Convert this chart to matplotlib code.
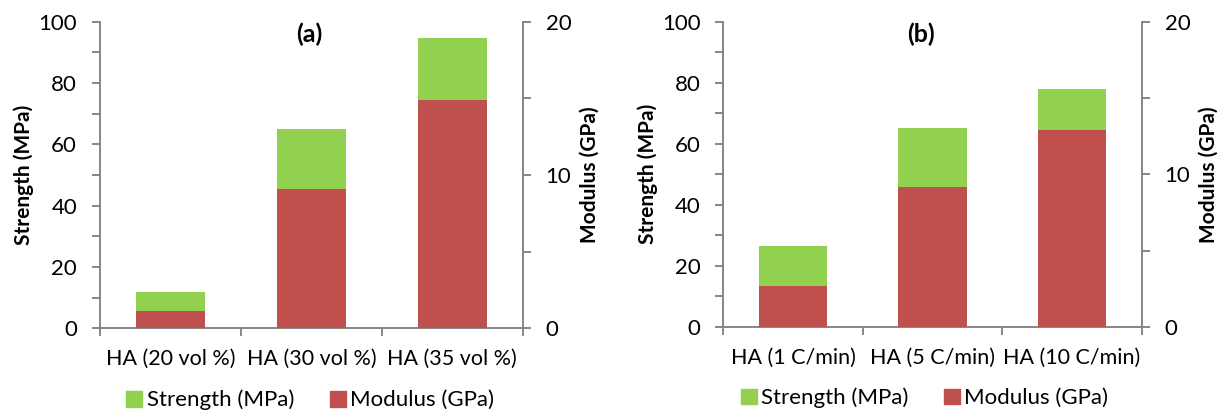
import matplotlib
matplotlib.use("Agg")
import matplotlib.pyplot as plt
from matplotlib.ticker import MultipleLocator, FixedLocator, NullFormatter
from matplotlib.patches import Patch

plt.rcParams['font.family'] = ['Lato', 'DejaVu Sans']

# -- data
cats_a = ["HA (20 vol %)", "HA (30 vol %)", "HA (35 vol %)"]
strength_a = [11.8, 65.1, 94.8]      # MPa
modulus_a = [1.12, 9.12, 14.88]      # GPa

cats_b = ["HA (1 C/min)", "HA (5 C/min)", "HA (10 C/min)"]
strength_b = [26.5, 65.2, 78.0]      # MPa
modulus_b = [2.67, 9.18, 12.92]      # GPa

GREEN = "#92D050"
RED = "#C0504D"
GRAY = "#868686"


def panel(rect, cats, strength, modulus, title, title_x, leg_x):
    # draws one panel: strength bars on the left axis, modulus on the right
    # @param rect - axes position in figure fractions
    # @param title_x, leg_x - title / legend centre in axes coordinates
    ax = fig.add_axes(rect)
    ax2 = ax.twinx()
    x = range(len(cats))
    ax.bar(x, strength, width=0.49, color=GREEN, zorder=2)
    ax2.bar(x, modulus, width=0.49, color=RED, zorder=2)

    ax.set_xlim(-0.5, len(cats) - 0.5)
    ax.set_ylim(0, 100)
    ax2.set_ylim(0, 20)

    ax.yaxis.set_major_locator(MultipleLocator(20))
    ax.yaxis.set_minor_locator(MultipleLocator(10))
    ax2.yaxis.set_major_locator(MultipleLocator(10))
    ax2.yaxis.set_minor_locator(MultipleLocator(5))

    ax.set_xticks(list(x))
    ax.set_xticklabels(cats, fontsize=15.5)
    ax.xaxis.set_minor_locator(FixedLocator([i - 0.5 for i in range(len(cats) + 1)]))
    ax.xaxis.set_minor_formatter(NullFormatter())
    ax.tick_params(axis='x', which='major', length=0, pad=15)
    ax.tick_params(axis='x', which='minor', length=5.5, width=1.4, color=GRAY)

    for a in (ax, ax2):
        a.tick_params(axis='y', which='both', length=5.5, width=1.4,
                      color=GRAY, labelsize=16, direction='out', pad=11)
        for s in a.spines.values():
            s.set_color(GRAY)
            s.set_linewidth(1.4)
        a.spines['top'].set_visible(False)
    ax.spines['right'].set_visible(False)
    ax2.spines['left'].set_visible(False)
    ax2.spines['bottom'].set_visible(False)

    ax.set_ylabel("Strength (MPa)", fontsize=15, fontweight='bold', labelpad=3)
    ax2.set_ylabel("Modulus (GPa)", fontsize=15, fontweight='bold', labelpad=6)
    ax.text(title_x, 0.998, title, transform=ax.transAxes, ha='center', va='top',
            fontsize=18, fontweight='bold')

    handles = [Patch(color=GREEN, label="Strength (MPa)"),
               Patch(color=RED, label="Modulus (GPa)")]
    ax.legend(handles=handles, loc='center', bbox_to_anchor=(leg_x, -0.234),
              ncol=2, frameon=False, fontsize=16, handlelength=0.72,
              handleheight=0.72, handletextpad=0.2, columnspacing=1.6,
              borderpad=0, borderaxespad=0)
    return ax


fig = plt.figure(figsize=(12.24, 4.16), dpi=100)
panel([0.0817, 0.2108, 0.3454, 0.737], cats_a, strength_a, modulus_a,
      "(a)", 0.496, 0.497)
panel([0.5909, 0.2147, 0.3418, 0.7324], cats_b, strength_b, modulus_b,
      "(b)", 0.472, 0.481)

fig.savefig("out.png", dpi=100)
